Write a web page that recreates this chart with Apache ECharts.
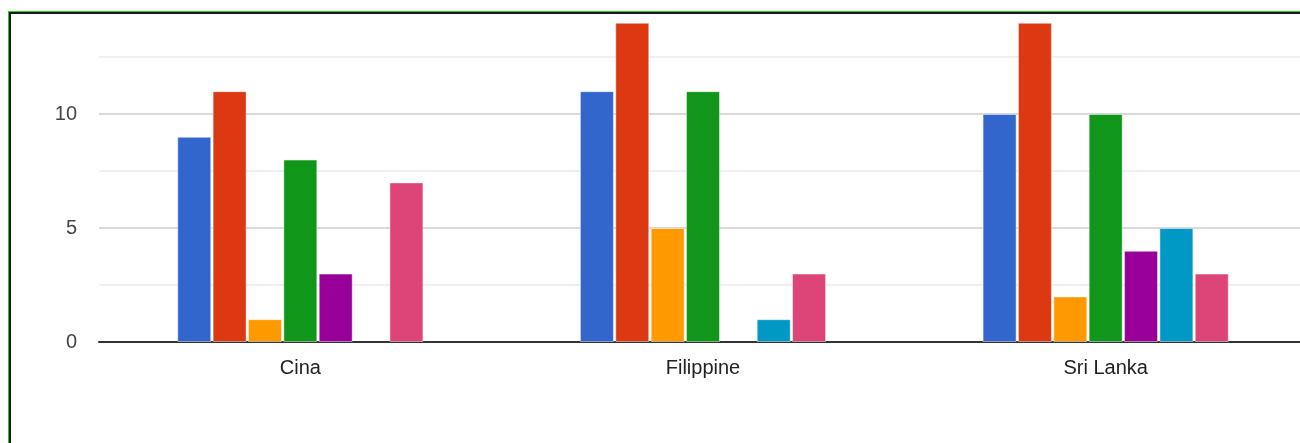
<!DOCTYPE html>
<html>
<head>
<meta charset="utf-8">
<style>
  html, body { margin: 0; padding: 0; background: #fff; overflow: hidden; }
  #chart { width: 1312px; height: 443px; }
</style>
<script src="https://cdn.jsdelivr.net/npm/echarts@6/dist/echarts.min.js"></script>
</head>
<body>
<div id="chart"></div>
<script>
// Countries on the category axis
const categories = ['Cina', 'Filippine', 'Sri Lanka'];

// One series per answer option, values per country
const series1 = [9, 11, 10];
const series2 = [11, 14, 14];
const series3 = [1, 5, 2];
const series4 = [8, 11, 10];
const series5 = [3, 0, 4];
const series6 = [0, 1, 5];
const series7 = [7, 3, 3];

const seriesValues = [series1, series2, series3, series4, series5, series6, series7];
const palette = ['#3366cc', '#dc3912', '#ff9900', '#109618', '#990099', '#0099c6', '#dd4477'];

const chart = echarts.init(document.getElementById('chart'), null, { renderer: 'canvas' });

// the plot runs slightly past the right edge of the visible page
chart.setOption({
  animation: false,
  backgroundColor: '#ffffff',
  textStyle: { fontFamily: 'Liberation Sans, Arial, sans-serif' },
  grid: { left: 99, width: 1208, top: 0, bottom: 101, containLabel: false },
  xAxis: {
    type: 'category',
    data: categories,
    axisLine: { show: true, lineStyle: { color: '#333333', width: 2 } },
    axisTick: { show: false },
    axisLabel: { color: '#222222', fontSize: 20, margin: 16 }
  },
  yAxis: {
    type: 'value',
    min: 0,
    max: 15,
    interval: 5,
    axisLine: { show: false },
    axisTick: { show: false },
    axisLabel: { color: '#444444', fontSize: 20, margin: 22, showMaxLabel: false },
    splitLine: { lineStyle: { color: '#cccccc', width: 1.5 } },
    minorTick: { show: false, splitNumber: 2 },
    minorSplitLine: { show: true, lineStyle: { color: '#ebebeb', width: 1.5 } }
  },
  series: seriesValues.map((vals, i) => ({
    type: 'bar',
    data: vals.map(v => (v === 0 ? null : v)),
    barWidth: 34,
    barGap: '4%',
    itemStyle: {
      color: palette[i],
      borderColor: 'rgba(255,255,255,0.45)',
      borderWidth: 1
    }
  })),
  graphic: [
    // blank strip above the frame
    { type: 'rect', z: 100, shape: { x: 0, y: 0, width: 1312, height: 11 }, style: { fill: '#ffffff' } },
    // frame: green outer line, dark inner line
    { type: 'rect', z: 101, shape: { x: 8, y: 11, width: 1304, height: 1 }, style: { fill: '#22cc22' } },
    { type: 'rect', z: 101, shape: { x: 8, y: 11, width: 1, height: 432 }, style: { fill: '#22cc22' } },
    { type: 'rect', z: 101, shape: { x: 9, y: 12, width: 1303, height: 2 }, style: { fill: '#1a1a1a' } },
    { type: 'rect', z: 101, shape: { x: 9, y: 12, width: 2, height: 431 }, style: { fill: '#1a1a1a' } }
  ]
});
</script>
</body>
</html>
